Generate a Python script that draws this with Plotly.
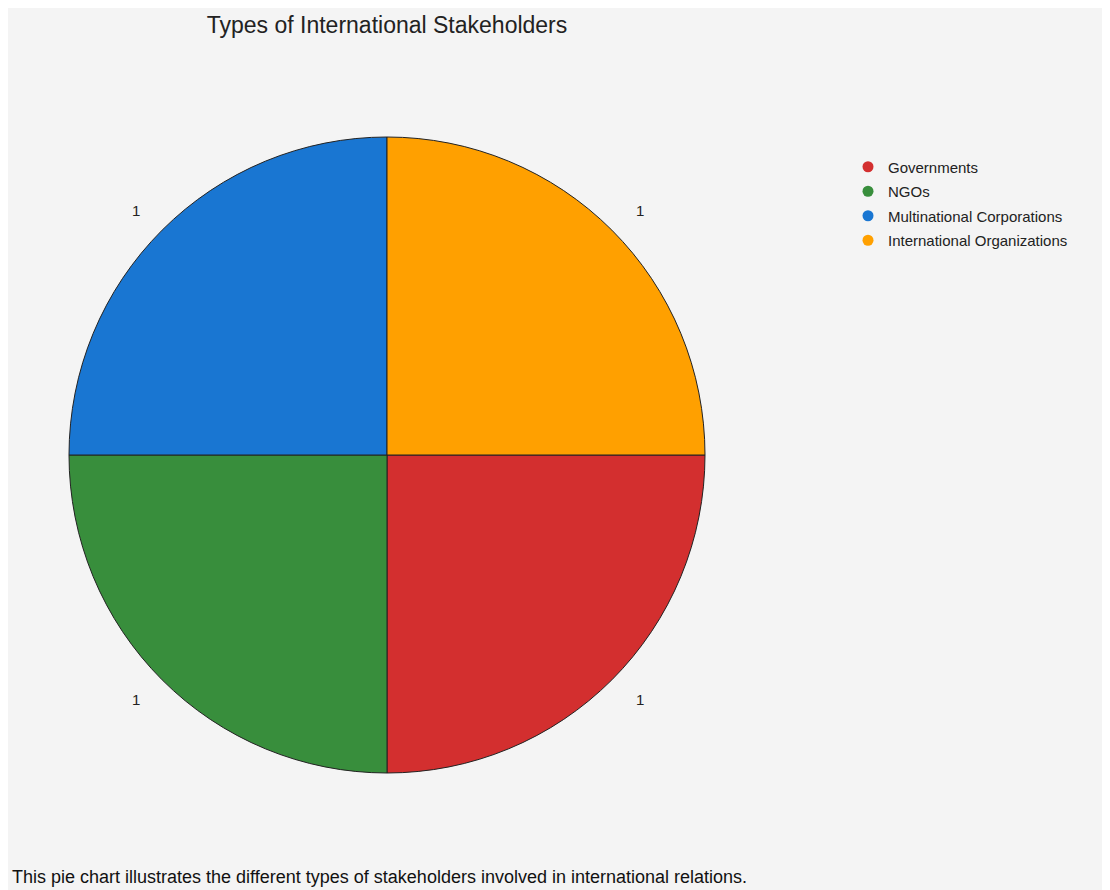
import math
import plotly.graph_objects as go

categories = ["Governments", "NGOs", "Multinational Corporations", "International Organizations"]
values = [1, 1, 1, 1]
colors = ["#d32f2f", "#388e3c", "#1976d2", "#ffa000"]
title_text = "Types of International Stakeholders"
caption_text = "This pie chart illustrates the different types of stakeholders involved in international relations."

W, H = 1102, 882
FONT = "Arial, Liberation Sans, sans-serif"
BG = "#f4f4f4"

# pie geometry (pixels in figure space)
cx_px, cy_px, R = 379, 447, 318
dom_x = [(cx_px - R) / W, (cx_px + R) / W]
dom_y = [1 - (cy_px + R) / H, 1 - (cy_px - R) / H]

fig = go.Figure()
fig.add_trace(go.Pie(
    labels=categories, values=values, sort=False, direction="clockwise", rotation=90,
    marker=dict(colors=colors, line=dict(color="#222222", width=1)),
    textinfo="none", hoverinfo="label+value", showlegend=False,
    domain=dict(x=dom_x, y=dom_y),
))

# legend entries with circle symbols
for i, (name, col) in enumerate(zip(categories, colors)):
    fig.add_trace(go.Scatter(
        x=[None], y=[None], mode="markers", name=name, legendgroup=name,
        marker=dict(symbol="circle", size=11, color=col),
    ))

# value labels outside each slice, positioned from cumulative data
total = sum(values)
cum = 0
annotations = []
for v in values:
    mid = (cum + v / 2) / total
    ang = math.radians(0 - mid * 360)
    rl = R * 1.132
    x = (cx_px - 2 + rl * math.cos(ang)) / W
    y = 1 - (cy_px - rl * math.sin(ang)) / H
    annotations.append(dict(x=x, y=y, xref="paper", yref="paper", text=str(v),
                            showarrow=False, font=dict(size=15, color="#222222", family=FONT)))
    cum += v

annotations.append(dict(x=2 / W, y=1 - 869 / H, xref="paper", yref="paper", xanchor="left",
                        yanchor="middle", text=caption_text, showarrow=False,
                        font=dict(size=18, color="#111111", family=FONT)))

fig.update_layout(
    width=W, height=H,
    paper_bgcolor=BG, plot_bgcolor=BG,
    margin=dict(l=0, r=0, t=0, b=0),
    title=dict(text=title_text, x=cx_px / W, xanchor="center", y=1 - 17 / H, yanchor="middle",
               font=dict(size=23, color="#222222", family=FONT)),
    xaxis=dict(visible=False), yaxis=dict(visible=False),
    legend=dict(x=840 / W, y=1 - 142.5 / H, xanchor="left", yanchor="top",
                font=dict(size=15, color="#222222", family=FONT),
                bgcolor="rgba(0,0,0,0)", tracegroupgap=2, itemwidth=30),
    annotations=annotations,
    font=dict(family=FONT),
)

fig.write_html("out.html")
